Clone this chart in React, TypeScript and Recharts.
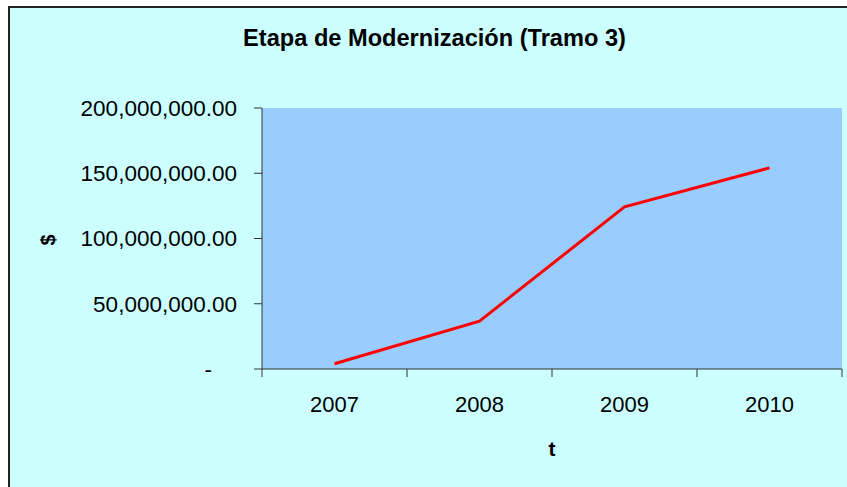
import React from 'react';
import { LineChart, Line, XAxis, YAxis, CartesianGrid, Label } from 'recharts';

const years = ['2007', '2008', '2009', '2010'];
const amounts = [4000000, 36700000, 124200000, 154100000];
const yTicks = [0, 50000000, 100000000, 150000000, 200000000];
const chartTitle = 'Etapa de Modernización (Tramo 3)';
const yTitle = '$';
const xTitle = 't';

const data = years.map((year, i) => ({ year, amount: amounts[i] }));

const FONT = 'Arial, "Liberation Sans", sans-serif';
const AXIS = '#333333';

const fmt = (v: number) =>
  v.toLocaleString('en-US', { minimumFractionDigits: 2, maximumFractionDigits: 2 });

function YTick(props: any) {
  const { x, y, payload } = props;
  const v = payload.value;
  if (v === 0) {
    return (
      <text x={x - 25} y={y} dy="0.355em" textAnchor="end" fontFamily={FONT} fontSize={22.5} fill="#000">
        -
      </text>
    );
  }
  return (
    <text x={x} y={y} dy="0.355em" textAnchor="end" fontFamily={FONT} fontSize={22.5} fill="#000">
      {fmt(v)}
    </text>
  );
}

function XTick(props: any) {
  const { x, y, payload, width, visibleTicksCount, index } = props;
  const half = width / visibleTicksCount / 2;
  const last = index === visibleTicksCount - 1;
  return (
    <g>
      <line x1={x - half} x2={x - half} y1={y} y2={y + 8} stroke={AXIS} strokeWidth={1} />
      {last && <line x1={x + half} x2={x + half} y1={y} y2={y + 8} stroke={AXIS} strokeWidth={1} />}
      <text x={x} y={y + 43} textAnchor="middle" fontFamily={FONT} fontSize={22} fill="#000">
        {payload.value}
      </text>
    </g>
  );
}

export default function App() {
  return (
    <div style={{ position: 'absolute', left: 0, top: 0, width: 847, height: 487, overflow: 'hidden' }}>
      <div
        style={{
          position: 'absolute',
          left: 8,
          top: 6,
          width: 900,
          height: 520,
          border: '2px solid #222',
          background: '#CCFFFF',
        }}
      />
      <div
        style={{
          position: 'absolute',
          left: 0,
          top: 25,
          width: 869,
          textAlign: 'center',
          fontFamily: FONT,
          fontWeight: 'bold',
          fontSize: 23.6,
          color: '#000',
          lineHeight: '27px',
        }}
      >
        {chartTitle}
      </div>
      <div
        style={{
          position: 'absolute',
          left: 48,
          top: 240,
          transform: 'translate(-50%, -50%) rotate(-90deg)',
          fontFamily: FONT,
          fontWeight: 'bold',
          fontSize: 20,
          color: '#000',
          lineHeight: '20px',
        }}
      >
        {yTitle}
      </div>
      <div style={{ position: 'absolute', left: 0, top: 0 }}>
        <LineChart
          width={847}
          height={487}
          data={data}
          margin={{ top: 108, right: 5, left: 62, bottom: 28 }}
        >
          <CartesianGrid horizontal={false} vertical={false} fill="#99CCFF" stroke="none" />
          <XAxis
            dataKey="year"
            type="category"
            scale="band"
            height={90}
            axisLine={{ stroke: AXIS }}
            tickLine={false}
            tickSize={0}
            tickMargin={0}
            tick={<XTick />}
            interval={0}
          >
            <Label
              value={xTitle}
              position="insideBottom"
              offset={3}
              style={{ fontFamily: FONT, fontWeight: 'bold', fontSize: 21, fill: '#000' }}
            />
          </XAxis>
          <YAxis
            width={200}
            domain={[0, 200000000]}
            ticks={yTicks}
            interval={0}
            axisLine={{ stroke: AXIS }}
            tickLine={{ stroke: AXIS }}
            tickSize={8}
            tickMargin={17}
            tick={<YTick />}
          />
          <Line
            type="linear"
            dataKey="amount"
            stroke="#FF0000"
            strokeWidth={3}
            dot={false}
            activeDot={false}
            isAnimationActive={false}
          />
        </LineChart>
      </div>
    </div>
  );
}
